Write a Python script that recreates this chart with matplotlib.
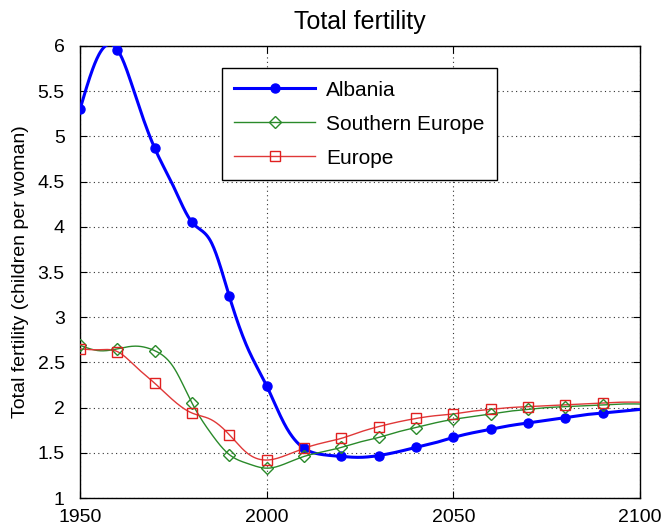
import numpy as np
import matplotlib
matplotlib.use("Agg")
import matplotlib.pyplot as plt
from matplotlib.lines import Line2D
from matplotlib.ticker import FuncFormatter

plt.rcParams['font.family'] = ['Liberation Sans', 'DejaVu Sans']

# five-year estimates/projections, 1950-2100
years = np.arange(1950, 2101, 5)
albania = [5.30, 5.90, 5.96, 5.43, 4.87, 4.45, 4.05, 3.84, 3.23, 2.65,
           2.24, 1.80, 1.55, 1.48, 1.46, 1.45, 1.47, 1.51, 1.56, 1.61,
           1.67, 1.72, 1.76, 1.80, 1.83, 1.86, 1.89, 1.92, 1.94, 1.96, 1.98]
southern_europe = [2.69, 2.63, 2.65, 2.68, 2.63, 2.45, 2.05, 1.72, 1.48, 1.38,
                   1.33, 1.38, 1.46, 1.51, 1.56, 1.62, 1.67, 1.73, 1.78, 1.83,
                   1.87, 1.90, 1.93, 1.96, 1.98, 2.00, 2.01, 2.02, 2.03, 2.04, 2.04]
europe = [2.65, 2.64, 2.62, 2.45, 2.27, 2.08, 1.94, 1.87, 1.70, 1.49,
          1.42, 1.47, 1.55, 1.61, 1.66, 1.73, 1.79, 1.84, 1.88, 1.91,
          1.93, 1.96, 1.98, 2.00, 2.01, 2.02, 2.03, 2.04, 2.05, 2.06, 2.06]
labels = ['Albania', 'Southern Europe', 'Europe']


def smooth(x, y, n=800):
    # natural cubic spline through the points, for a smooth line
    x = np.asarray(x, float)
    y = np.asarray(y, float)
    k = len(x)
    h = np.diff(x)
    A = np.zeros((k, k))
    b = np.zeros(k)
    A[0, 0] = A[-1, -1] = 1
    for i in range(1, k - 1):
        A[i, i - 1] = h[i - 1]
        A[i, i] = 2 * (h[i - 1] + h[i])
        A[i, i + 1] = h[i]
        b[i] = 6 * ((y[i + 1] - y[i]) / h[i] - (y[i] - y[i - 1]) / h[i - 1])
    M = np.linalg.solve(A, b)
    xs = np.linspace(x[0], x[-1], n)
    j = np.clip(np.searchsorted(x, xs) - 1, 0, k - 2)
    t0 = xs - x[j]
    t1 = x[j + 1] - xs
    hj = h[j]
    ys = (M[j] * t1 ** 3 + M[j + 1] * t0 ** 3) / (6 * hj) \
        + (y[j] / hj - M[j] * hj / 6) * t1 \
        + (y[j + 1] / hj - M[j + 1] * hj / 6) * t0
    return xs, ys


fig = plt.figure(figsize=(6.64, 5.31), dpi=100)
ax = fig.add_axes([0.1205, 0.0621, 0.8434, 0.8513])

styles = [
    dict(color='#0000ff', lw=2.2, marker='o', ms=6.5, mfc='#0000ff', mec='#0000ff'),
    dict(color='#2a8a2a', lw=1.0, marker='D', ms=6.5, mfc='none', mec='#2a8a2a'),
    dict(color='#e03838', lw=1.0, marker='s', ms=7.5, mfc='none', mec='#e02020'),
]

handles = []
for series, st, lab in zip([albania, southern_europe, europe], styles, labels):
    xs, ys = smooth(years, series)
    ax.plot(xs, ys, color=st['color'], lw=st['lw'], zorder=3)
    # markers every ten years
    ax.plot(years[:-1:2], series[:-1:2], ls='none', marker=st['marker'],
            ms=st['ms'], mfc=st['mfc'], mec=st['mec'], mew=1.0, zorder=4)
    handles.append(Line2D([], [], color=st['color'], lw=st['lw'], marker=st['marker'],
                          ms=st['ms'], mfc=st['mfc'], mec=st['mec'], mew=1.0))

ax.set_xlim(1950, 2100)
ax.set_ylim(1, 6)
ax.set_xticks([1950, 2000, 2050, 2100])
ax.set_yticks(np.arange(1, 6.01, 0.5))
ax.yaxis.set_major_formatter(FuncFormatter(lambda v, p: '%g' % v))
ax.tick_params(direction='in', top=True, right=True, length=5, width=0.8,
               labelsize=14, colors='black')
ax.tick_params(axis='x', pad=8)
ax.tick_params(axis='y', pad=11)
ax.grid(True, ls=(0, (1, 3)), color='#333333', lw=0.8)
for sp in ax.spines.values():
    sp.set_linewidth(1.0)

ax.set_title('Total fertility', fontsize=18, pad=12)
ax.set_ylabel('Total fertility (children per woman)', fontsize=14, labelpad=6)

leg = ax.legend(handles, labels, loc='upper left', bbox_to_anchor=(0.253, 0.951),
                borderaxespad=0, fontsize=15, handlelength=3.9, handletextpad=0.5,
                labelspacing=0.72, borderpad=0.6, fancybox=False, framealpha=1,
                edgecolor='black')
leg.get_frame().set_linewidth(1.0)

fig.savefig('out.png', dpi=100)
